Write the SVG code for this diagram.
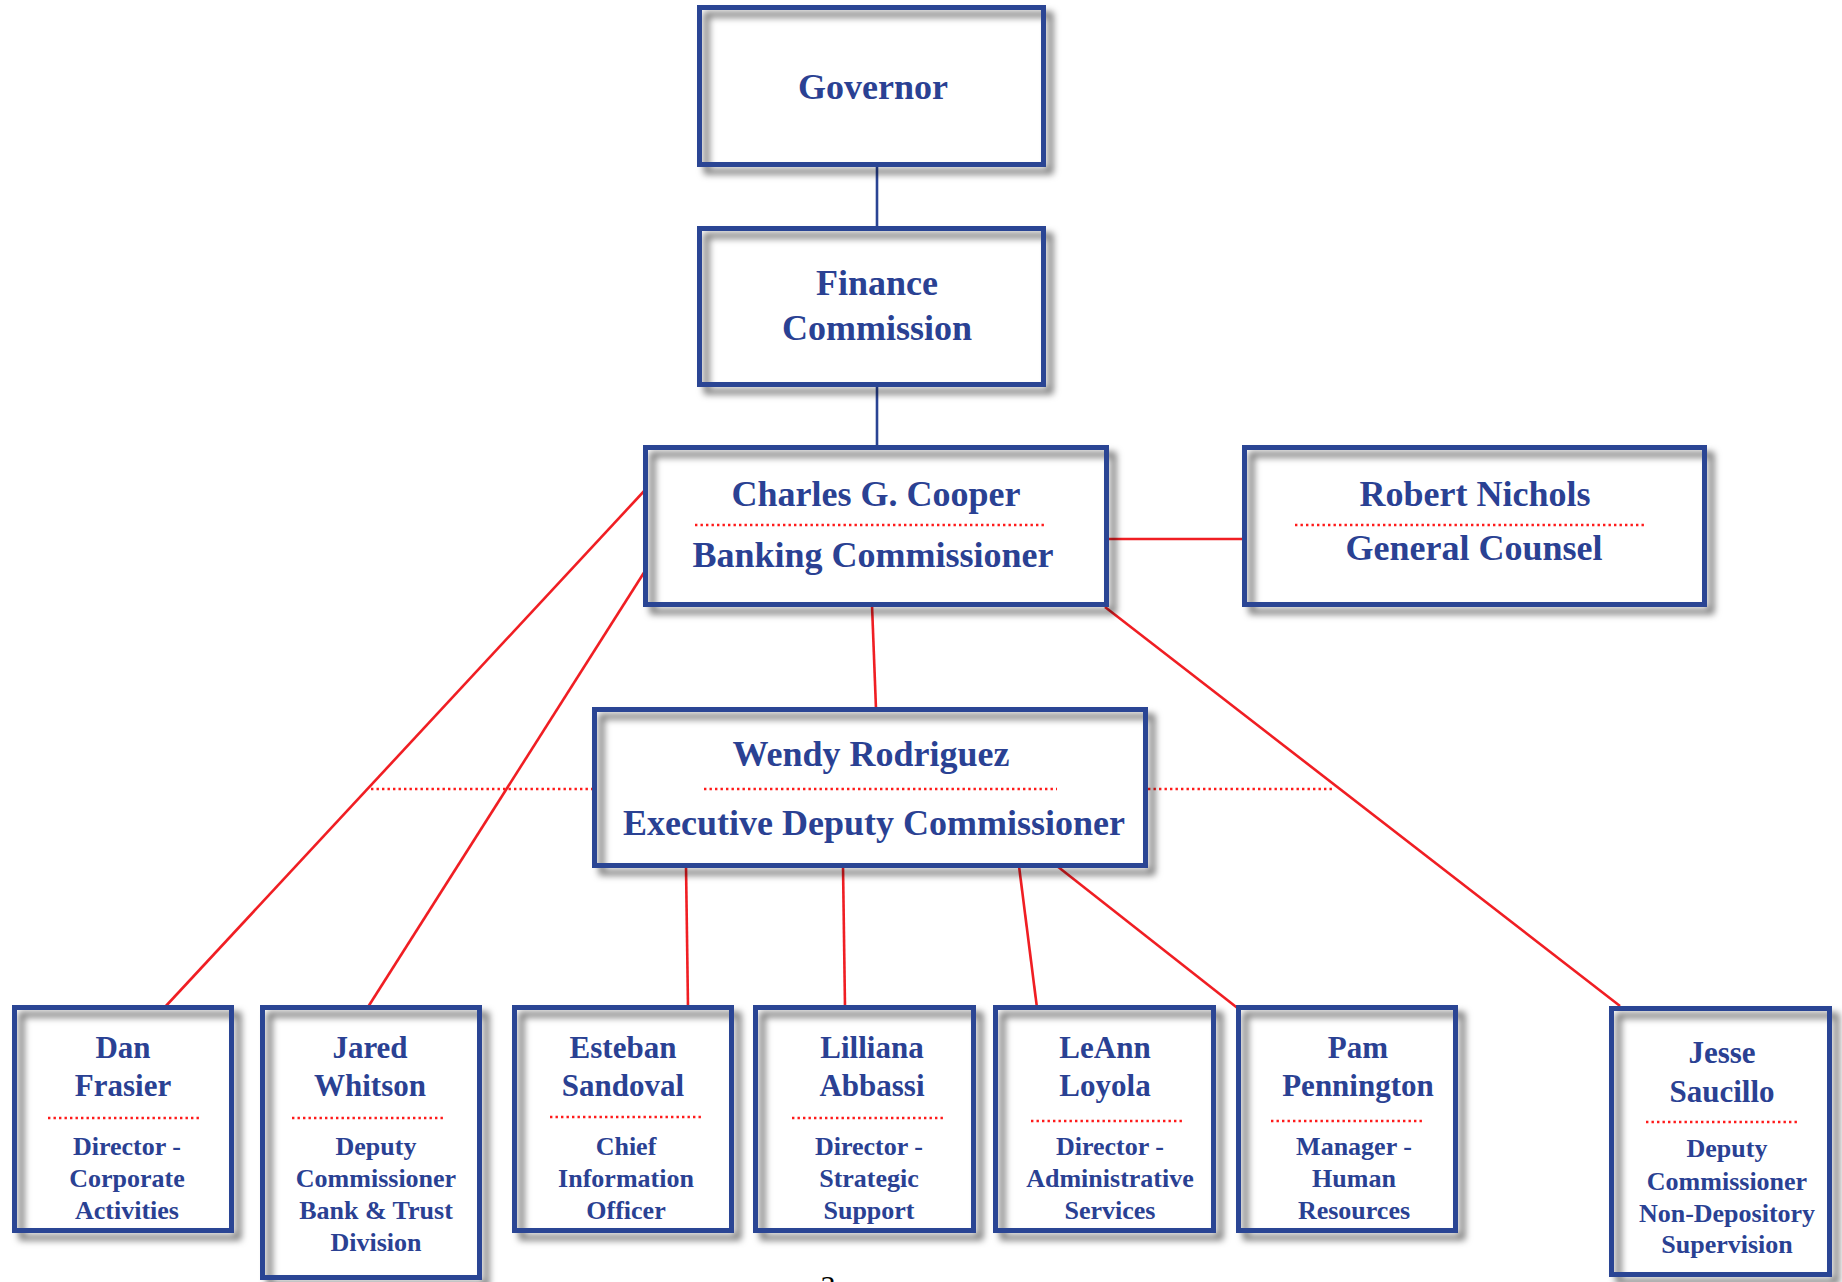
<svg xmlns="http://www.w3.org/2000/svg" width="1842" height="1282" viewBox="0 0 1842 1282">
<defs>
<filter id="sh" x="-10%" y="-10%" width="130%" height="130%">
<feGaussianBlur in="SourceAlpha" stdDeviation="3.5"/>
<feOffset dx="7" dy="7" result="b"/>
<feFlood flood-color="#000" flood-opacity="0.6"/>
<feComposite in2="b" operator="in"/>
<feMerge><feMergeNode/><feMergeNode in="SourceGraphic"/></feMerge>
</filter>
<style>
.bg{fill:#fff}
.frame{fill:none;stroke:#2a4494;stroke-width:5;filter:url(#sh)}
.t{font-family:"Liberation Serif","Times New Roman",serif;font-weight:bold;fill:#2a4193;text-anchor:middle}
.big{font-size:36px}
.nm{font-size:31px}
.ti{font-size:26px}
.dot{stroke:#ff1a1a;stroke-width:2.5;stroke-dasharray:2.4 3.1;fill:none}
.red{stroke:#f01e23;stroke-width:2.6;fill:none}
.blue{stroke:#2a4494;stroke-width:2.6;fill:none}
</style>
</defs>
<rect width="1842" height="1282" fill="#fff"/>
<g id="connectors">
<line class="blue" x1="877" y1="165" x2="877" y2="228"/>
<line class="blue" x1="877" y1="385" x2="877" y2="447"/>
<line class="red" x1="1107" y1="539" x2="1244" y2="539"/>
<line class="red" x1="872" y1="605" x2="876" y2="709"/>
<line class="red" x1="646" y1="489" x2="165" y2="1007"/>
<line class="red" x1="645" y1="571" x2="368" y2="1007"/>
<line class="red" x1="1105" y1="607" x2="1620" y2="1006"/>
<line class="red" x1="686" y1="866" x2="688" y2="1007"/>
<line class="red" x1="843" y1="866" x2="845" y2="1007"/>
<line class="red" x1="1019" y1="866" x2="1037" y2="1008"/>
<line class="red" x1="1057" y1="866" x2="1240" y2="1010"/>
<line class="dot" x1="371" y1="789" x2="592" y2="789"/>
<line class="dot" x1="1148" y1="789" x2="1335" y2="789"/>
</g>
<g id="governor">
<rect class="bg" x="699.5" y="7.5" width="344" height="157"/>
<rect class="frame" x="699.5" y="7.5" width="344" height="157"/>
<text class="t big" x="873" y="99">Governor</text>
</g>
<g id="finance">
<rect class="bg" x="699.5" y="228.5" width="344" height="156"/>
<rect class="frame" x="699.5" y="228.5" width="344" height="156"/>
<text class="t big" x="877" y="295">Finance</text>
<text class="t big" x="877" y="340">Commission</text>
</g>
<g id="cooper">
<rect class="bg" x="645.5" y="447.5" width="461" height="157"/>
<rect class="frame" x="645.5" y="447.5" width="461" height="157"/>
<text class="t big" x="876" y="506">Charles G. Cooper</text>
<line class="dot" x1="695" y1="525" x2="1047" y2="525"/>
<text class="t big" x="873" y="567">Banking Commissioner</text>
</g>
<g id="nichols">
<rect class="bg" x="1244.5" y="447.5" width="460" height="157"/>
<rect class="frame" x="1244.5" y="447.5" width="460" height="157"/>
<text class="t big" x="1475" y="506">Robert Nichols</text>
<line class="dot" x1="1295" y1="525" x2="1647" y2="525"/>
<text class="t big" x="1474" y="560">General Counsel</text>
</g>
<g id="rodriguez">
<rect class="bg" x="594.5" y="709.5" width="551" height="156"/>
<rect class="frame" x="594.5" y="709.5" width="551" height="156"/>
<text class="t big" x="871" y="766">Wendy Rodriguez</text>
<line class="dot" x1="704" y1="789" x2="1057" y2="789"/>
<text class="t big" x="874" y="835">Executive Deputy Commissioner</text>
</g>
<g id="frasier">
<rect class="bg" x="14.5" y="1007.5" width="217" height="223"/>
<rect class="frame" x="14.5" y="1007.5" width="217" height="223"/>
<text class="t nm" x="123" y="1058">Dan</text>
<text class="t nm" x="123" y="1096">Frasier</text>
<line class="dot" x1="48" y1="1118" x2="201" y2="1118"/>
<text class="t ti" x="127" y="1155">Director -</text>
<text class="t ti" x="127" y="1187">Corporate</text>
<text class="t ti" x="127" y="1219">Activities</text>
</g>
<g id="whitson">
<rect class="bg" x="262.5" y="1007.5" width="217" height="270"/>
<rect class="frame" x="262.5" y="1007.5" width="217" height="270"/>
<text class="t nm" x="370" y="1058">Jared</text>
<text class="t nm" x="370" y="1096">Whitson</text>
<line class="dot" x1="292" y1="1118" x2="444" y2="1118"/>
<text class="t ti" x="376" y="1155">Deputy</text>
<text class="t ti" x="376" y="1187">Commissioner</text>
<text class="t ti" x="376" y="1219">Bank &amp; Trust</text>
<text class="t ti" x="376" y="1251">Division</text>
</g>
<g id="sandoval">
<rect class="bg" x="514.5" y="1007.5" width="217" height="223"/>
<rect class="frame" x="514.5" y="1007.5" width="217" height="223"/>
<text class="t nm" x="623" y="1058">Esteban</text>
<text class="t nm" x="623" y="1096">Sandoval</text>
<line class="dot" x1="550" y1="1117" x2="702" y2="1117"/>
<text class="t ti" x="626" y="1155">Chief</text>
<text class="t ti" x="626" y="1187">Information</text>
<text class="t ti" x="626" y="1219">Officer</text>
</g>
<g id="abbassi">
<rect class="bg" x="755.5" y="1007.5" width="218" height="223"/>
<rect class="frame" x="755.5" y="1007.5" width="218" height="223"/>
<text class="t nm" x="872" y="1058">Lilliana</text>
<text class="t nm" x="872" y="1096">Abbassi</text>
<line class="dot" x1="792" y1="1118" x2="945" y2="1118"/>
<text class="t ti" x="869" y="1155">Director -</text>
<text class="t ti" x="869" y="1187">Strategic</text>
<text class="t ti" x="869" y="1219">Support</text>
</g>
<g id="loyola">
<rect class="bg" x="995.5" y="1007.5" width="218" height="223"/>
<rect class="frame" x="995.5" y="1007.5" width="218" height="223"/>
<text class="t nm" x="1105" y="1058">LeAnn</text>
<text class="t nm" x="1105" y="1096">Loyola</text>
<line class="dot" x1="1031" y1="1121" x2="1184" y2="1121"/>
<text class="t ti" x="1110" y="1155">Director -</text>
<text class="t ti" x="1110" y="1187">Administrative</text>
<text class="t ti" x="1110" y="1219">Services</text>
</g>
<g id="pennington">
<rect class="bg" x="1238.5" y="1007.5" width="217" height="223"/>
<rect class="frame" x="1238.5" y="1007.5" width="217" height="223"/>
<text class="t nm" x="1358" y="1058">Pam</text>
<text class="t nm" x="1358" y="1096">Pennington</text>
<line class="dot" x1="1271" y1="1121" x2="1424" y2="1121"/>
<text class="t ti" x="1354" y="1155">Manager -</text>
<text class="t ti" x="1354" y="1187">Human</text>
<text class="t ti" x="1354" y="1219">Resources</text>
</g>
<g id="saucillo">
<rect class="bg" x="1611.5" y="1008.5" width="218" height="266"/>
<rect class="frame" x="1611.5" y="1008.5" width="218" height="266"/>
<text class="t nm" x="1722" y="1063">Jesse</text>
<text class="t nm" x="1722" y="1102">Saucillo</text>
<line class="dot" x1="1646" y1="1122" x2="1798" y2="1122"/>
<text class="t ti" x="1727" y="1157">Deputy</text>
<text class="t ti" x="1727" y="1190">Commissioner</text>
<text class="t ti" x="1727" y="1222">Non-Depository</text>
<text class="t ti" x="1727" y="1253">Supervision</text>
</g>
<text x="828" y="1296" font-family="Liberation Serif, serif" font-size="30" text-anchor="middle" fill="#000">3</text>
</svg>
